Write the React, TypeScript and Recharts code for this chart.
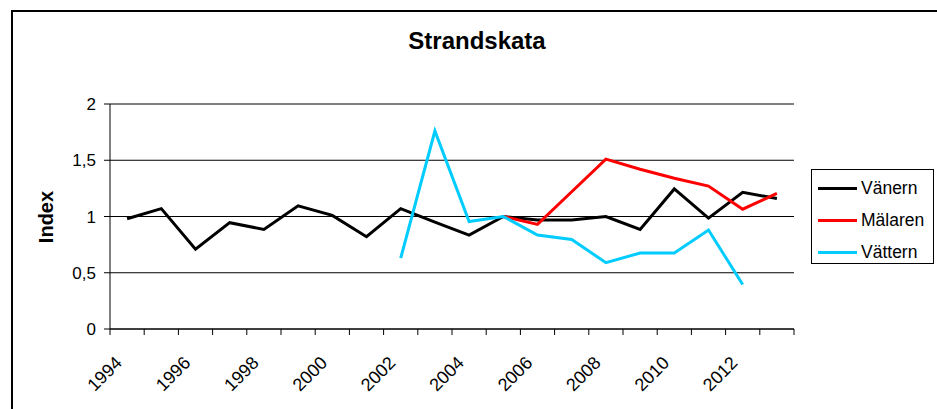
import React from "react"
import { CartesianGrid, Label, Line, LineChart, XAxis, YAxis } from "recharts"

const years = [
  "1994", "1995", "1996", "1997", "1998", "1999", "2000", "2001", "2002", "2003",
  "2004", "2005", "2006", "2007", "2008", "2009", "2010", "2011", "2012", "2013",
]

const vanern = [0.98, 1.07, 0.71, 0.945, 0.885, 1.095, 1.01, 0.82, 1.07, 0.95, 0.835, 1.0, 0.97, 0.97, 1.0, 0.885, 1.245, 0.985, 1.215, 1.16]
const malaren = [null, null, null, null, null, null, null, null, null, null, null, 1.0, 0.93, 1.22, 1.51, 1.42, 1.34, 1.27, 1.065, 1.205]
const vattern = [null, null, null, null, null, null, null, null, 0.63, 1.76, 0.955, 1.0, 0.835, 0.795, 0.59, 0.675, 0.675, 0.88, 0.395, null]

const yTicks = [0, 0.5, 1, 1.5, 2]

const series = [
  { key: "vanern", name: "Vänern", color: "#000000" },
  { key: "malaren", name: "Mälaren", color: "#FF0000" },
  { key: "vattern", name: "Vättern", color: "#00CCFF" },
]

const FONT = "'Liberation Sans', Arial, sans-serif"

// ticks sit between categories, labels only every second year
function YearTick(props: any) {
  const { x, y, payload, index } = props
  const half = payload?.offset ?? 17.1
  const lx = x - 4
  const ly = y + 29
  return (
    <g>
      <line x1={x - half} x2={x - half} y1={y - 6} y2={y} stroke="#000" />
      {index === years.length - 1 && (
        <line x1={x + half} x2={x + half} y1={y - 6} y2={y} stroke="#000" />
      )}
      {index % 2 === 0 && (
        <text
          x={lx}
          y={ly}
          transform={`rotate(-45, ${lx}, ${ly})`}
          textAnchor="end"
          fontSize={18}
          fontFamily={FONT}
          fill="#000"
        >
          {payload.value}
        </text>
      )}
    </g>
  )
}

export default function App() {
  const data = years.map((year, i) => ({
    year,
    vanern: vanern[i],
    malaren: malaren[i],
    vattern: vattern[i],
  }))

  return (
    <div style={{ position: "absolute", left: 0, top: 0, width: 937, height: 409, overflow: "hidden", background: "#fff", fontFamily: FONT }}>
      <div
        style={{
          position: "absolute",
          left: 11,
          top: 10,
          width: 1000,
          height: 1000,
          borderLeft: "2px solid #000",
          borderTop: "2px solid #000",
        }}
      />
      <div
        style={{
          position: "absolute",
          left: 0,
          top: 27,
          width: 954,
          textAlign: "center",
          fontSize: 24,
          lineHeight: "28px",
          fontWeight: "bold",
        }}
      >
        Strandskata
      </div>

      <div style={{ position: "absolute", left: 0, top: 0 }}>
        <LineChart
          width={937}
          height={409}
          data={data}
          margin={{ top: 104, right: 143, bottom: 20, left: 50 }}
        >
          <CartesianGrid vertical={false} stroke="#000" strokeWidth={1} />
          <XAxis
            dataKey="year"
            scale="band"
            interval={0}
            height={60}
            tickSize={6}
            tickMargin={0}
            tickLine={false}
            axisLine={{ stroke: "#000" }}
            tick={<YearTick />}
          />
          <YAxis
            domain={[0, 2]}
            ticks={yTicks}
            width={60}
            tickSize={6}
            tickMargin={8}
            tickFormatter={(v: number) => String(v).replace(".", ",")}
            tick={{ fontSize: 17, fill: "#000", fontFamily: FONT }}
            tickLine={{ stroke: "#000" }}
            axisLine={{ stroke: "#000" }}
          >
            <Label
              content={() => (
                <text
                  x={53}
                  y={217}
                  transform="rotate(-90, 53, 217)"
                  textAnchor="middle"
                  fontSize={20}
                  fontWeight="bold"
                  fontFamily={FONT}
                  fill="#000"
                >
                  Index
                </text>
              )}
            />
          </YAxis>
          <YAxis
            yAxisId="frame"
            orientation="right"
            domain={[0, 2]}
            width={0}
            tick={false}
            tickLine={false}
            axisLine={{ stroke: "#808080" }}
          />
          {series.map((s) => (
            <Line
              key={s.key}
              type="linear"
              dataKey={s.key}
              name={s.name}
              stroke={s.color}
              strokeWidth={3}
              dot={false}
              activeDot={false}
              isAnimationActive={false}
            />
          ))}
        </LineChart>
      </div>

      <div
        style={{
          position: "absolute",
          left: 811,
          top: 169,
          width: 123,
          height: 95,
          boxSizing: "border-box",
          border: "1px solid #000",
          background: "#fff",
        }}
      >
        {series.map((s, i) => (
          <div
            key={s.key}
            style={{
              position: "absolute",
              left: 6,
              top: 5 + i * 32,
              height: 26,
              display: "flex",
              alignItems: "center",
              fontSize: 17.5,
              whiteSpace: "nowrap",
            }}
          >
            <span style={{ display: "inline-block", width: 39, height: 3, background: s.color, marginRight: 4 }} />
            {s.name}
          </div>
        ))}
      </div>
    </div>
  )
}
